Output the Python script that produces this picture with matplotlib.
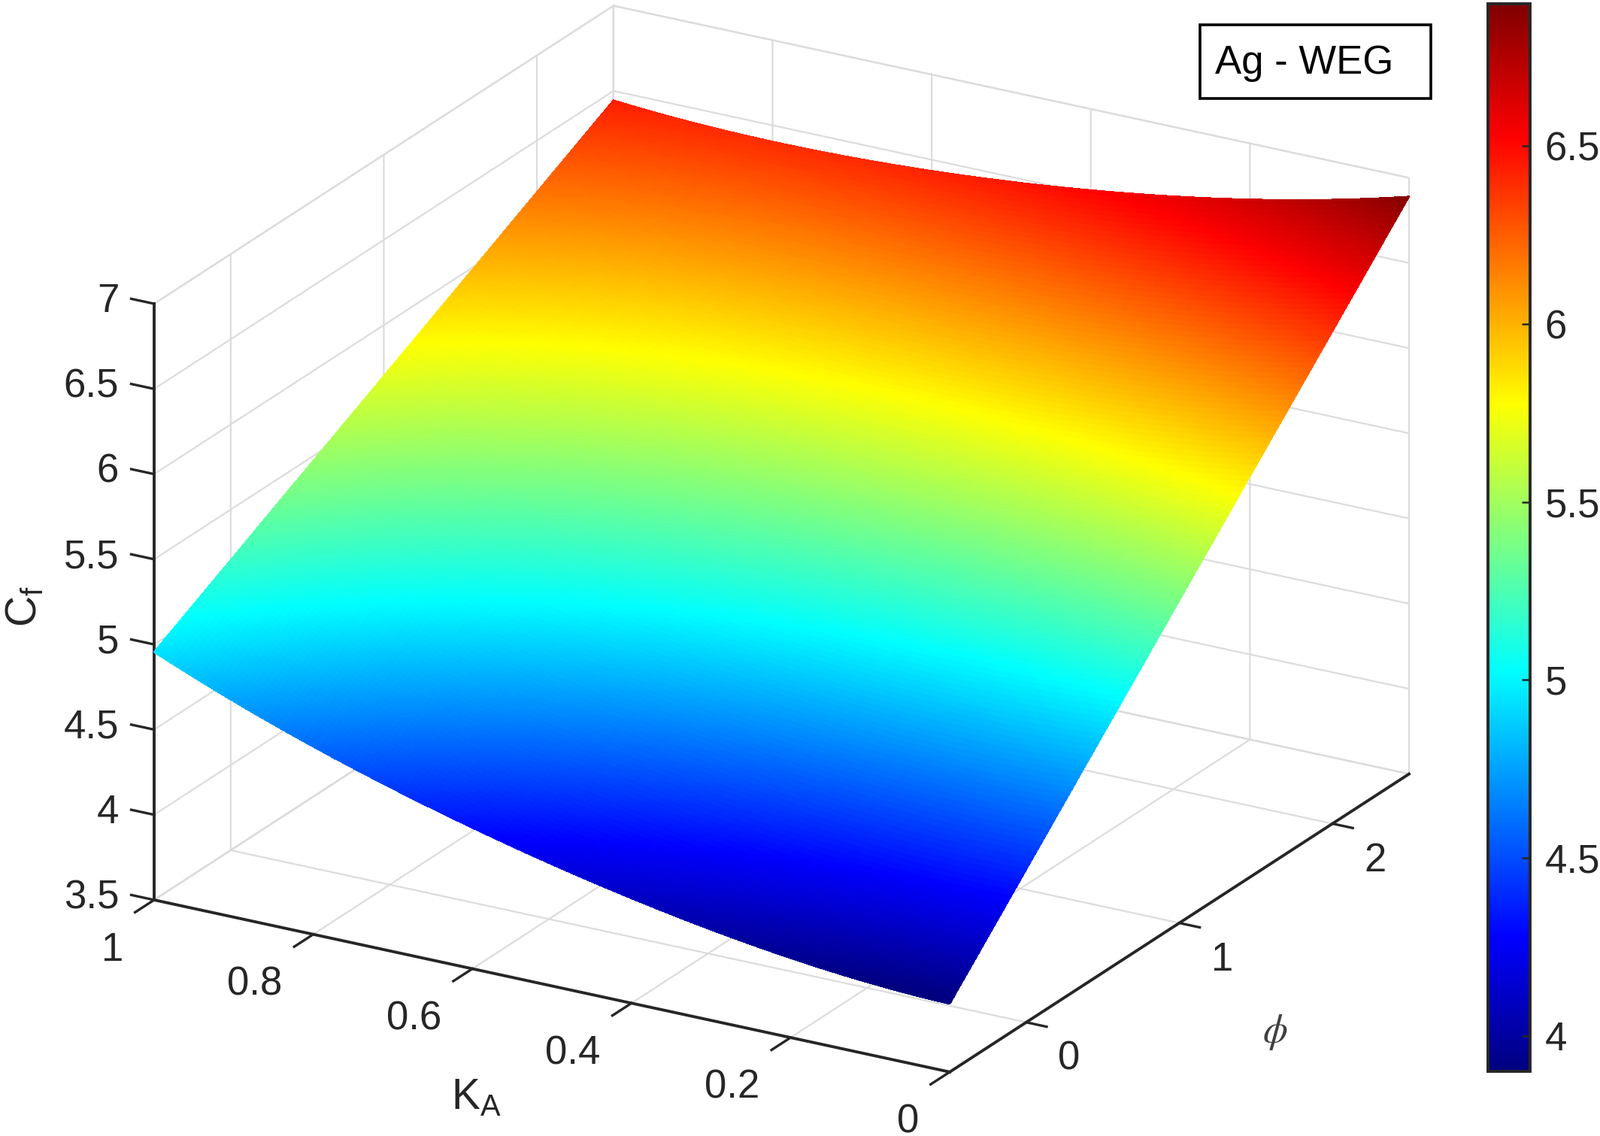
#!/usr/bin/env python3

import numpy as np
import matplotlib
matplotlib.use("Agg")
import matplotlib.pyplot as plt
from matplotlib.cm import ScalarMappable
from matplotlib.colors import LinearSegmentedColormap, Normalize
from matplotlib.patches import Rectangle
from matplotlib.transforms import offset_copy
from mpl_toolkits.mplot3d import proj3d

# Values: Cf along the two phi edges of the surface
ka_nodes = [0, 0.125, 0.25, 0.375, 0.5, 0.625, 0.75, 0.875, 1]
cf_phi_low = [3.90, 3.93, 3.995, 4.095, 4.215, 4.355, 4.527, 4.725, 4.955]
cf_phi_high = [6.89, 6.745, 6.625, 6.543, 6.47, 6.427, 6.408, 6.41, 6.445]
phi_edges = [-0.5, 2.5]

ka_ticks = [0, 0.2, 0.4, 0.6, 0.8, 1]
ka_labels = ["0", "0.2", "0.4", "0.6", "0.8", "1"]
phi_ticks = [0, 1, 2]
cf_ticks = [3.5, 4, 4.5, 5, 5.5, 6, 6.5, 7]
cf_labels = ["3.5", "4", "4.5", "5", "5.5", "6", "6.5", "7"]
cbar_ticks = [4, 4.5, 5, 5.5, 6, 6.5]
cbar_labels = ["4", "4.5", "5", "5.5", "6", "6.5"]
cf_range = (3.90, 6.90)

W, H = 2128, 1511
text_grey = "#262626"

# MATLAB's jet has its colour stops on the eighths, matplotlib's does not
matlab_jet = LinearSegmentedColormap.from_list("matlab_jet", [
    (0, (0, 0, 0.5)), (0.125, (0, 0, 1)), (0.375, (0, 1, 1)),
    (0.625, (1, 1, 0)), (0.875, (1, 0, 0)), (1, (0.5, 0, 0))], N=512)
norm = Normalize(*cf_range)

plt.rcParams["font.family"] = ["Liberation Sans", "DejaVu Sans"]
plt.rcParams["font.size"] = 38
plt.rcParams["mathtext.fontset"] = "custom"
plt.rcParams["mathtext.rm"] = "Liberation Sans"
plt.rcParams["grid.color"] = "#dcdcdc"
plt.rcParams["grid.linewidth"] = 1.6
plt.rcParams["text.color"] = text_grey
plt.rcParams["xtick.color"] = text_grey
plt.rcParams["ytick.color"] = text_grey


def fx(px):
    return px / W


def fy(py):
    return 1 - py / H


fig = plt.figure(figsize=(W / 100, H / 100), dpi=100)
ax = fig.add_axes([0.1, 0.1, 0.8, 0.8 * W / H], projection="3d", proj_type="ortho")
ax.view_init(elev=22, azim=-60)
ax.set_box_aspect((1, 1, 0.70))

# sub-facets only stand in for MATLAB's "shading interp", on a smooth curve through the read values
ka_mesh, phi_mesh = np.meshgrid(np.linspace(0, 1, 301), np.linspace(-0.5, 2.5, 301))
low = np.polyval(np.polyfit(ka_nodes, cf_phi_low, 4), ka_mesh)
high = np.polyval(np.polyfit(ka_nodes, cf_phi_high, 4), ka_mesh)
cf_mesh = low + (high - low) * (phi_mesh - phi_edges[0]) / (phi_edges[1] - phi_edges[0])

ax.plot_surface(ka_mesh, phi_mesh, cf_mesh, facecolors=matlab_jet(norm(cf_mesh)),
                rcount=300, ccount=300, linewidth=0.8, antialiased=False, shade=False)

ax.set_xlim(1, 0, view_margin=0)
ax.set_ylim(-0.5, 2.5, view_margin=0)
ax.set_zlim(3.5, 7, view_margin=0)
ax.set_xticks(ka_ticks, labels=ka_labels)
ax.set_yticks(phi_ticks, labels=["0", "1", "2"])
ax.set_zticks(cf_ticks, labels=cf_labels)
ax.zaxis.set_ticks_position("lower")
ax.tick_params(axis="x", pad=22)
ax.tick_params(axis="y", pad=14)
ax.tick_params(axis="z", pad=18)

# z ticks run along the KA direction in the reference
ax.zaxis._get_tickdir = lambda pos: 0

# (inward, outward) tick factors; the reversed KA axis swaps their sense on x and y
tick_lengths = {ax.xaxis: (0.52, 0), ax.yaxis: (0.32, 0), ax.zaxis: (0, 0.36)}
for axis, (tick_in, tick_out) in tick_lengths.items():
    axis.set_pane_color((1, 1, 1, 1))
    axis.pane.set_edgecolor("#dcdcdc")
    axis.pane.set_linewidth(1.6)
    axis.line.set_color(text_grey)
    axis.line.set_linewidth(2.8)
    axis._axinfo["tick"]["inward_factor"] = tick_in
    axis._axinfo["tick"]["outward_factor"] = tick_out
    axis._axinfo["tick"]["linewidth"] = {True: 2.4, False: 1}
    axis._axinfo["tick"]["color"] = text_grey


def corner_px(ka, phi, cf):
    x2, y2, _ = proj3d.proj_transform(ka, phi, cf, ax.get_proj())
    return ax.transData.transform((x2, y2))


# put the 3D box where it sits in the reference
target_left = np.array([205, H - 1197])
target_right = np.array([1874, H - 1028])
for _ in range(3):
    fig.canvas.draw()
    left = corner_px(1, -0.5, 3.5)
    right = corner_px(0, 2.5, 3.5)
    bbox = ax.get_position()
    size = bbox.width * W * (target_right[0] - target_left[0]) / (right[0] - left[0])
    ax.set_position([bbox.x0, bbox.y0, size / W, size / H])
    fig.canvas.draw()
    left = corner_px(1, -0.5, 3.5)
    bbox = ax.get_position()
    ax.set_position([bbox.x0 + (target_left[0] - left[0]) / W, bbox.y0 + (target_left[1] - left[1]) / H,
                     bbox.width, bbox.height])


def nudge(axis, dx, dy, ha="center"):
    # Axis3D resets the label transforms each time it fetches its ticks
    base_ticks = axis.get_major_ticks
    moved = offset_copy(ax.transData, fig=fig, x=dx, y=dy, units="dots")

    def get_ticks(numticks=None):
        ticks = base_ticks(numticks)
        for tick in ticks:
            tick.label1.set_transform(moved)
            tick.label1.set_ha(ha)
        return ticks

    axis.get_major_ticks = get_ticks


nudge(ax.xaxis, -15, 9, ha="right")
nudge(ax.yaxis, 24, 8)
nudge(ax.zaxis, 15, 34, ha="right")

# axis titles
fig.text(fx(600), fy(1475), r"$\mathrm{K_A}$", ha="left", va="baseline", fontsize=41)
fig.text(fx(1696), fy(1373), r"$\phi$", ha="center", va="center", fontsize=38,
         math_fontfamily="stix", color="#404040")
fig.text(fx(33), fy(807), r"$\mathrm{C_f}$", ha="center", va="center", rotation=90, fontsize=41)

# label box
fig.add_artist(Rectangle((fx(1596), fy(131)), 307 / W, 98 / H, transform=fig.transFigure,
                         facecolor="white", edgecolor="black", linewidth=2.6))
fig.text(fx(1616), fy(98), "Ag - WEG", ha="left", va="baseline", fontsize=38, color="black")

# colorbar
cax = fig.add_axes([fx(1979), fy(1425), 56 / W, 1420 / H])
cbar = fig.colorbar(ScalarMappable(norm=norm, cmap=matlab_jet), cax=cax, ticks=cbar_ticks)
cbar.ax.set_yticklabels(cbar_labels)
cbar.ax.tick_params(direction="in", length=8, width=1.8, pad=14, labelsize=38, color=text_grey)
cbar.outline.set_edgecolor(text_grey)
cbar.outline.set_linewidth(2.8)

fig.savefig("out.png", dpi=100)
